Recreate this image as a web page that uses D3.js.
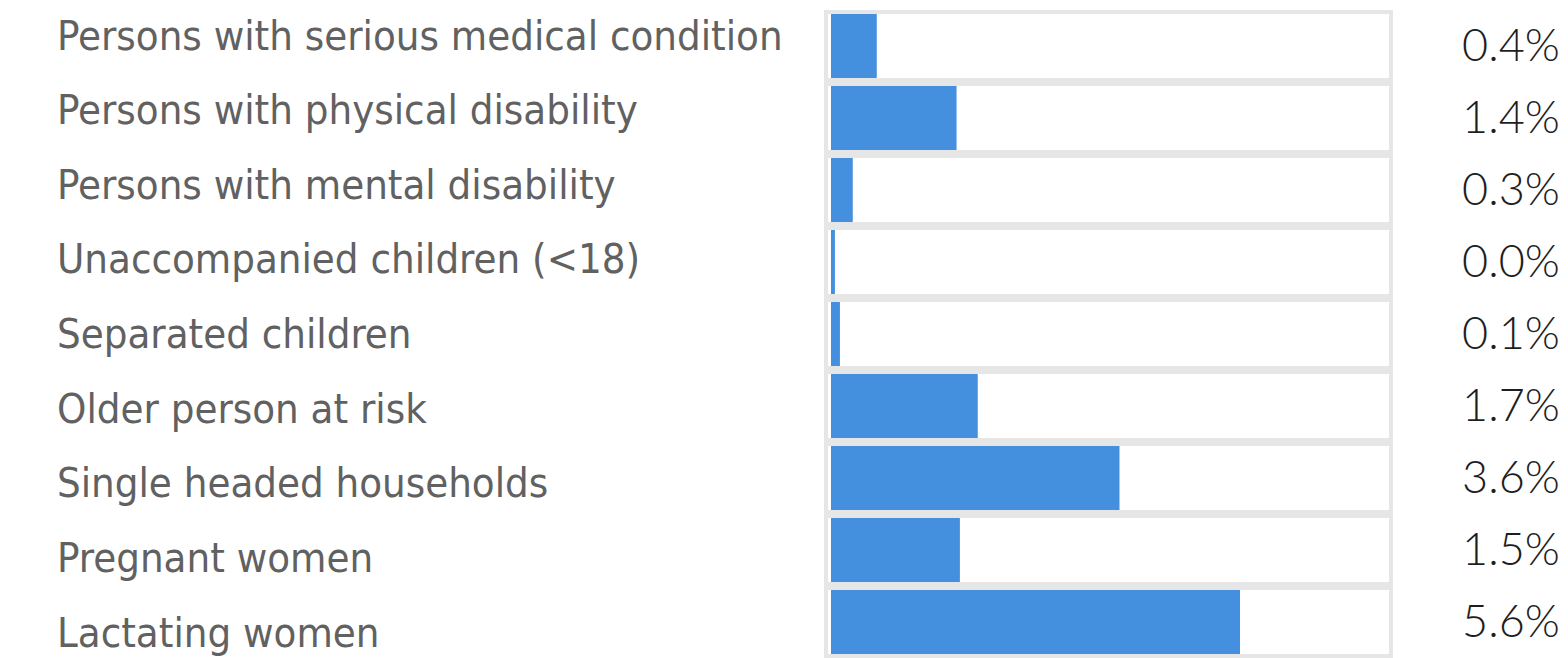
<!DOCTYPE html>
<html>
<head>
<meta charset="utf-8">
<script src="https://cdn.jsdelivr.net/npm/d3@7"></script>
<style>
  html, body { margin: 0; padding: 0; background: #fff; }
</style>
</head>
<body>
<svg id="chart" width="1568" height="658"></svg>
<script>
// categories, top to bottom
var categories = [
  'Persons with serious medical condition',
  'Persons with physical disability',
  'Persons with mental disability',
  'Unaccompanied children (<18)',
  'Separated children',
  'Older person at risk',
  'Single headed households',
  'Pregnant women',
  'Lactating women'
];

// percentage shown at the right of each row
var percents = [0.4, 1.4, 0.3, 0.0, 0.1, 1.7, 3.6, 1.5, 5.6];

// how far each bar fills its box (share of box width)
var barFill = [0.082, 0.225, 0.039, 0.007, 0.016, 0.263, 0.517, 0.231, 0.733];

var data = categories.map(function(c, i) {
  return {name: c, pct: percents[i], fill: barFill[i]};
});

var svg = d3.select('#chart');

// rows
var y = d3.scaleBand().domain(categories).range([10, 658]).padding(0);
// label rows are spaced a bit wider than the boxes
var yLabel = d3.scalePoint().domain(categories).range([35, 632]);

// bar extent inside the box
var x = d3.scaleLinear().domain([0, 1]).range([831, 1389]);

var boxLeft = 826, boxRight = 1391;

// Boxes
svg.selectAll('.box')
  .data(data)
  .join('rect')
  .attr('class', 'box')
  .attr('x', boxLeft)
  .attr('y', function(d) { return y(d.name) + 2; })
  .attr('width', boxRight - boxLeft)
  .attr('height', y.bandwidth() - 4)
  .style('fill', '#fff')
  .style('stroke', '#e6e6e6')
  .style('stroke-width', 4);

// Bars
svg.selectAll('.bar')
  .data(data)
  .join('rect')
  .attr('class', 'bar')
  .attr('x', x(0))
  .attr('y', function(d) { return y(d.name) + 4; })
  .attr('width', function(d) { return Math.max(x(d.fill) - x(0), 0); })
  .attr('height', y.bandwidth() - 8)
  .style('fill', '#4490df');

// Category labels
var labels = svg.selectAll('.label')
  .data(data)
  .join('text')
  .attr('class', 'label')
  .attr('x', 57)
  .attr('y', function(d) { return yLabel(d.name); })
  .attr('dominant-baseline', 'central')
  .style('font-family', '"DejaVu Sans Condensed", "DejaVu Sans", sans-serif')
  .style('font-size', '38px')
  .style('fill', '#616161')
  .text(function(d) { return d.name; });

// fit the longest label to the width seen in the reference
var longest = labels.filter(function(d, i) { return i === 0; }).node();
var w = longest.getComputedTextLength();
if (w > 0) labels.style('font-size', (38 * 726 / w) + 'px');

// Percent labels
svg.selectAll('.pct')
  .data(data)
  .join('text')
  .attr('class', 'pct')
  .attr('x', 1511)
  .attr('y', function(d) { return y(d.name) + y.bandwidth() / 2 - 2; })
  .attr('text-anchor', 'middle')
  .attr('dominant-baseline', 'central')
  .style('font-family', 'Lato, "Open Sans", sans-serif')
  .style('font-weight', 300)
  .style('font-size', '45px')
  .style('fill', '#1e1e1e')
  .text(function(d) { return d.pct.toFixed(1) + '%'; });
</script>
</body>
</html>
